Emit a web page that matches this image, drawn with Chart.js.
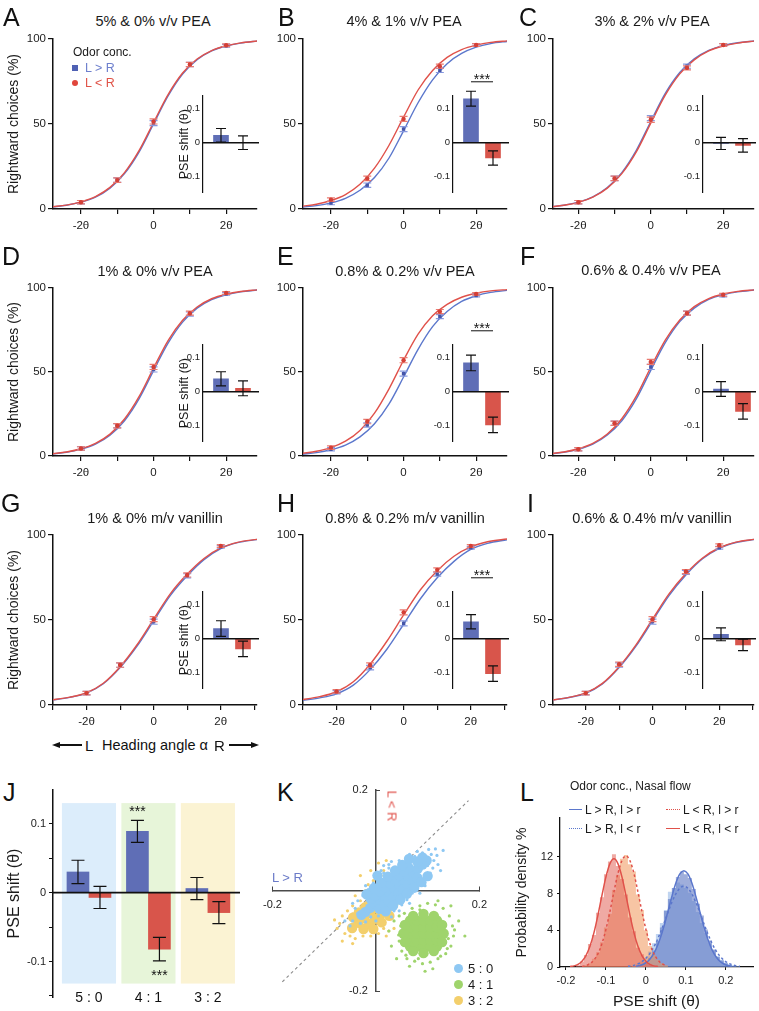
<!DOCTYPE html>
<html>
<head>
<meta charset="utf-8">
<script src="https://cdn.jsdelivr.net/npm/chart.js@4.4.1/dist/chart.umd.min.js"></script>
<style>
  html, body { margin: 0; padding: 0; background: #fff; }
  body { position: relative; width: 759px; height: 1011px; overflow: hidden;
         font-family: "Liberation Sans", Arial, sans-serif; color: #1a1a1a; }
  canvas { position: absolute; }
  .lb { position: absolute; white-space: nowrap; line-height: 1; }
</style>
</head>
<body>
<script>
// ---------- data ----------
const thetaX = [-2, -1, 0, 1, 2];
const thetaLabels = { '-2': '-2θ', '0': '0', '2': '2θ' };
const pointErr = [1.0, 1.3, 1.5, 1.2, 0.8];

const psychTitles = ['5% & 0% v/v PEA', '4% & 1% v/v PEA', '3% & 2% v/v PEA',
  '1% & 0% v/v PEA', '0.8% & 0.2% v/v PEA', '0.6% & 0.4% v/v PEA',
  '1% & 0% m/v vanillin', '0.8% & 0.2% m/v vanillin', '0.6% & 0.4% m/v vanillin'];

// rightward choices (%) at -2θ..2θ, L>R (blue) and L<R (red)
const blueMeans = [
  [4, 17, 50.5, 85, 96], [3.5, 14, 47, 81.5, 96.5], [4, 18, 53.5, 84, 96.5],
  [4.5, 18, 51.5, 84.5, 96.5], [4, 18.5, 49, 83, 95.5], [4, 19.5, 53, 85, 95.5],
  [7, 23.5, 49, 76, 93], [7.5, 22, 48, 77, 92.5], [7, 23.5, 49, 78, 92.5]];
const redMeans = [
  [4, 17, 51.5, 85, 96.3], [5.5, 18, 53, 84, 96.5], [4, 18, 52.5, 83, 96.5],
  [4.5, 18, 53, 85, 97], [5, 20.5, 57, 86, 96.5], [4, 19.5, 56, 85, 96],
  [7, 23.5, 50.5, 76.5, 93.5], [8, 23.5, 54.5, 79.5, 93.5], [7, 24, 50.5, 78.5, 94]];

// fitted curves
const curveX12 = [-2.8, -2.4, -2, -1.6, -1.2, -0.8, -0.4, 0, 0.4, 0.8, 1.2, 1.6, 2, 2.4, 2.9];
const curveX3 = [-3.1, -2.5, -2, -1.5, -1, -0.5, 0, 0.5, 1, 1.5, 2, 2.5, 3.1];
const blueCurves = [
  [1.2, 2.2, 4.0, 7.0, 12.3, 20.8, 33.5, 50, 66.5, 79.4, 87.8, 93, 95.9, 97.6, 98.9],
  [1.1, 2.0, 3.6, 6.3, 11, 18.5, 30, 46, 62.5, 76, 85.5, 91.5, 95.2, 97.3, 98.7],
  [1.2, 2.2, 4.0, 7.2, 12.6, 21.4, 34.5, 51.5, 68, 80.3, 88.3, 93.3, 96.1, 97.8, 98.9],
  [1.2, 2.2, 4.1, 7.1, 12.4, 21, 34, 50.8, 67.2, 79.7, 88, 93.1, 96, 97.7, 98.9],
  [1.1, 2.0, 3.7, 6.5, 11.4, 19.2, 31, 47, 63.5, 77, 86, 92, 95.4, 97.4, 98.7],
  [1.2, 2.2, 4.0, 7.1, 12.5, 21, 34, 51, 67.5, 80, 88, 93.2, 96, 97.7, 98.9],
  [2.7, 4.5, 7.0, 12.5, 22, 34.5, 49.5, 64.5, 76, 85.5, 92, 95.5, 97.4],
  [2.5, 4.2, 6.6, 11.7, 20.8, 32.8, 47.5, 62.5, 74.8, 84.5, 91.5, 95.1, 97.2],
  [2.6, 4.4, 6.9, 12.4, 22, 34.5, 49.5, 64.5, 76.5, 86, 92.2, 95.6, 97.5]];
const redCurves = [
  [1.3, 2.3, 4.2, 7.3, 12.7, 21.4, 34.3, 50.9, 67.3, 80, 88.2, 93.2, 96, 97.7, 98.9],
  [1.6, 2.8, 5, 8.5, 14.5, 24, 37.5, 54, 70, 81.5, 89.2, 93.8, 96.4, 98, 99],
  [1.2, 2.2, 3.9, 7.0, 12.3, 20.8, 33.6, 50.5, 67, 79.5, 87.7, 93, 95.9, 97.6, 98.9],
  [1.3, 2.4, 4.3, 7.5, 13, 22, 35.3, 52.3, 68.7, 80.8, 88.7, 93.6, 96.3, 97.9, 99],
  [1.5, 2.8, 5, 8.8, 15.2, 25.5, 40, 57, 72.5, 83.5, 90.3, 94.5, 96.9, 98.3, 99.1],
  [1.3, 2.4, 4.3, 7.5, 13.1, 22.2, 35.6, 52.8, 69, 81, 88.9, 93.7, 96.4, 98, 99],
  [2.8, 4.6, 7.2, 12.8, 22.5, 35.3, 50.5, 65.5, 77, 86.2, 92.4, 95.7, 97.5],
  [2.9, 4.9, 7.8, 13.7, 24, 37.5, 53, 67.8, 79, 87.5, 93, 96, 97.7],
  [2.7, 4.5, 7.1, 12.7, 22.5, 35.2, 50.5, 65.5, 77.3, 86.5, 92.5, 95.8, 97.6]];

// inset PSE shifts (θ)
const insetBlue = [0.022, 0.13, -0.002, 0.038, 0.085, 0.008, 0.03, 0.05, 0.013];
const insetBlueErr = [0.02, 0.022, 0.018, 0.021, 0.023, 0.022, 0.023, 0.021, 0.019];
const insetRed = [0.0, -0.045, -0.008, 0.01, -0.098, -0.058, -0.03, -0.103, -0.018];
const insetRedErr = [0.02, 0.021, 0.02, 0.022, 0.023, 0.023, 0.023, 0.023, 0.017];
const insetSig = [false, true, false, false, true, false, false, true, false];

// panel J
const jGroups = ['5 : 0', '4 : 1', '3 : 2'];
const jBlue = [0.030, 0.089, 0.006];
const jBlueErr = [0.017, 0.016, 0.016];
const jRed = [-0.007, -0.082, -0.029];
const jRedErr = [0.016, 0.017, 0.016];

// panel K bootstrap clouds [L>R shift, L<R shift]
const cloud50Core = [[-0.020,-0.042],[-0.011,-0.034],[-0.002,-0.026],[0.008,-0.018],[0.017,-0.011],[0.026,-0.003],
  [0.035,0.005],[0.044,0.013],[0.053,0.021],[0.062,0.028],[0.072,0.036],[0.081,0.044],[0.090,0.052],
  [-0.010,-0.016],[-0.001,-0.009],[0.008,-0.001],[0.017,0.007],[0.027,0.015],[0.036,0.023],[0.045,0.031],[0.054,0.038],[0.063,0.046],
  [0.007,-0.036],[0.016,-0.028],[0.025,-0.021],[0.034,-0.013],[0.044,-0.005],[0.053,0.003],[0.062,0.011],[0.071,0.019],[0.080,0.026],
  [-0.004,0.005],[0.010,0.016],[0.023,0.028],[0.037,0.040],[0.033,-0.030],[0.047,-0.018],[0.060,-0.006],[0.074,0.006],
  [-0.018,-0.007],[0.051,0.051],[0.064,0.063],[0.019,-0.041],[0.088,0.017],[0.100,0.029],[0.098,0.060],[0.090,0.066],
  [-0.028,-0.048],[0.003,0.030],[0.080,0.058]];
const cloud50Spray = [[0.107,0.072],[0.095,0.068],[0.085,0.062],[0.100,0.050],[0.112,0.060],[0.090,0.075],[0.070,0.060],
  [0.060,0.055],[0.050,0.050],[0.040,0.045],[0.075,0.068],[0.120,0.052],[0.105,0.035],[0.095,0.030],[0.088,0.020],
  [0.080,0.008],[0.070,-0.005],[0.060,-0.018],[0.050,-0.028],[0.035,-0.040],[0.020,-0.045],[0.005,-0.050],[-0.010,-0.052],
  [-0.025,-0.050],[-0.035,-0.045],[-0.040,-0.035],[-0.035,-0.020],[-0.025,-0.010],[-0.015,0.002],[-0.005,0.015],
  [0.005,0.025],[0.015,0.035],[0.025,0.045],[0.015,0.050],[-0.060,-0.060],[-0.050,-0.070],[-0.020,-0.062],[0.030,0.058],
  [0.130,0.080],[0.115,0.083],[0.110,0.045],[0.118,0.070],[0.102,0.082],[0.080,0.078],[0.065,0.072],[0.045,0.060],
  [0.030,-0.052],[0.045,-0.040],[0.065,-0.025],[0.085,-0.005],[-0.045,-0.060],[-0.030,-0.065],[0.000,-0.060],
  [0.010,0.040],[0.025,0.052],[-0.020,0.010],[-0.045,-0.025],[0.125,0.040],[0.095,0.010]];
const cloud41Core = [[0.066,-0.111],[0.079,-0.111],[0.092,-0.111],[0.105,-0.111],[0.118,-0.111],
  [0.066,-0.098],[0.079,-0.098],[0.092,-0.098],[0.105,-0.098],[0.118,-0.098],
  [0.066,-0.085],[0.079,-0.085],[0.092,-0.085],[0.105,-0.085],[0.118,-0.085],
  [0.066,-0.072],[0.079,-0.072],[0.092,-0.072],[0.105,-0.072],[0.118,-0.072],
  [0.066,-0.059],[0.079,-0.059],[0.092,-0.059],[0.105,-0.059],[0.118,-0.059],
  [0.092,-0.046],[0.092,-0.124],[0.053,-0.085],[0.131,-0.085],[0.072,-0.050],[0.112,-0.050],
  [0.072,-0.120],[0.112,-0.120],[0.056,-0.068],[0.128,-0.068],[0.056,-0.102],[0.128,-0.102]];
const cloud41Spray = [[0.040,-0.030],[0.035,-0.060],[0.045,-0.100],[0.050,-0.120],[0.060,-0.135],[0.075,-0.140],
  [0.090,-0.145],[0.105,-0.142],[0.120,-0.135],[0.135,-0.125],[0.145,-0.110],[0.150,-0.090],[0.148,-0.070],
  [0.142,-0.050],[0.130,-0.035],[0.115,-0.028],[0.100,-0.025],[0.085,-0.030],[0.070,-0.035],[0.055,-0.045],
  [0.160,-0.060],[0.172,-0.090],[0.025,-0.080],[0.030,-0.110],[0.095,-0.160],[0.110,-0.155],[0.065,-0.150],
  [0.120,-0.020],[0.145,-0.030],[0.040,-0.135],[0.048,-0.070],[0.045,-0.050],[0.140,-0.095],[0.138,-0.115],
  [0.082,-0.135],[0.125,-0.130],[0.058,-0.128],[0.085,-0.038],[0.152,-0.078],[0.044,-0.088]];
const cloud32Core = [[-0.046,-0.074],[-0.034,-0.064],[-0.023,-0.055],[-0.011,-0.045],[0.000,-0.035],[0.011,-0.025],
  [0.023,-0.016],[0.034,-0.006],[0.046,0.004],[-0.044,-0.053],[-0.033,-0.043],[-0.021,-0.033],[-0.010,-0.024],
  [0.002,-0.014],[0.013,-0.004],[-0.024,-0.076],[-0.013,-0.066],[-0.002,-0.056],[0.010,-0.046],[0.021,-0.037],
  [0.033,-0.027],[-0.005,-0.076],[0.011,-0.063],[0.026,-0.050]];
const cloud32Spray = [[-0.070,-0.065],[-0.065,-0.050],[-0.060,-0.085],[-0.050,-0.090],[-0.040,-0.095],[-0.025,-0.090],
  [-0.010,-0.090],[0.005,-0.085],[0.015,-0.075],[-0.055,-0.040],[-0.045,-0.030],[-0.030,-0.020],[-0.040,-0.010],
  [-0.020,0.000],[-0.015,0.012],[-0.005,0.020],[0.010,0.030],[0.015,0.040],[0.005,0.055],[0.020,0.060],
  [-0.030,0.030],[-0.010,0.040],[-0.075,-0.075],[-0.080,-0.058],[0.020,-0.090],[0.025,-0.080],[-0.045,-0.105],
  [-0.065,-0.100],[0.035,-0.075]];
const cloudNames = ['5 : 0', '4 : 1', '3 : 2'];

// panel L histograms (probability density %)
const histRedX = [-0.18,-0.17,-0.16,-0.15,-0.14,-0.13,-0.12,-0.11,-0.10,-0.09,-0.08,-0.07,-0.06,-0.05,-0.04,-0.03,-0.02,-0.01,0,0.01,0.02,0.03,0.04];
const histRed = [0,0.2,0.6,1.3,2.5,3.5,5.9,7.6,10.1,11.5,12.3,11.0,9.6,7.9,5.4,3.9,2.1,1.4,0.6,0.3,0.1,0.05,0];
const histOrangeX = [-0.16,-0.15,-0.14,-0.13,-0.12,-0.11,-0.10,-0.09,-0.08,-0.07,-0.06,-0.05,-0.04,-0.03,-0.02,-0.01,0,0.01,0.02,0.03,0.04,0.05,0.06];
const histOrange = [0,0.2,0.4,0.9,1.6,2.7,4.3,5.8,8.4,10.0,11.8,12.2,11.2,10.4,7.9,6.2,4.0,2.3,1.3,0.8,0.4,0.2,0];
const histBlueX = [-0.03,-0.02,-0.01,0,0.01,0.02,0.03,0.04,0.05,0.06,0.07,0.08,0.09,0.10,0.11,0.12,0.13,0.14,0.15,0.16,0.17,0.18,0.19,0.20,0.21,0.22,0.23];
const histBlue = [0,0.1,0.3,0.5,1.0,1.8,2.8,4.3,6.1,7.4,8.6,9.8,10.4,10.1,9.7,8.5,6.9,5.6,4.1,2.9,1.9,1.1,0.7,0.4,0.2,0.1,0];
const histLightX = [-0.04,-0.03,-0.02,-0.01,0,0.01,0.02,0.03,0.04,0.05,0.06,0.07,0.08,0.09,0.10,0.11,0.12,0.13,0.14,0.15,0.16,0.17,0.18,0.19,0.20,0.21,0.22,0.23,0.24];
const histLight = [0,0.1,0.3,0.6,1.0,1.7,2.6,3.6,4.8,6.2,8.2,8.6,9.2,9.0,8.6,8.1,7.2,6.0,4.8,3.7,2.6,1.8,1.2,0.8,0.5,0.3,0.2,0.1,0];

// fitted densities
const fitRedSolidX = [-0.19,-0.18,-0.17,-0.16,-0.15,-0.14,-0.13,-0.12,-0.11,-0.10,-0.09,-0.08,-0.07,-0.06,-0.05,-0.04,-0.03,-0.02,-0.01,0,0.01,0.02,0.03];
const fitRedSolid = [0.05,0.12,0.28,0.63,1.25,2.25,3.74,5.66,7.81,9.82,11.27,11.8,11.27,9.82,7.81,5.66,3.74,2.25,1.25,0.63,0.28,0.12,0.05];
const fitRedDotX = [-0.16,-0.15,-0.14,-0.13,-0.12,-0.11,-0.10,-0.09,-0.08,-0.07,-0.06,-0.05,-0.04,-0.03,-0.02,-0.01,0,0.01,0.02,0.03,0.04,0.05];
const fitRedDot = [0.06,0.16,0.36,0.76,1.45,2.55,4.1,6.05,8.2,10.2,11.6,12.1,11.6,10.2,8.2,6.05,4.1,2.55,1.45,0.76,0.36,0.16];
const fitBlueSolidX = [-0.025,-0.015,-0.005,0.005,0.015,0.025,0.035,0.045,0.055,0.065,0.075,0.085,0.095,0.105,0.115,0.125,0.135,0.145,0.155,0.165,0.175,0.185,0.195,0.205,0.215];
const fitBlueSolid = [0.07,0.16,0.33,0.63,1.14,1.92,3.02,4.41,6.04,7.69,9.15,10.14,10.5,10.14,9.15,7.69,6.04,4.41,3.02,1.92,1.14,0.63,0.33,0.16,0.07];
const fitBlueDotX = [-0.045,-0.035,-0.025,-0.015,-0.005,0.005,0.015,0.025,0.035,0.045,0.055,0.065,0.075,0.085,0.095,0.105,0.115,0.125,0.135,0.145,0.155,0.165,0.175,0.185,0.195,0.205,0.215,0.225,0.235];
const fitBlueDot = [0.07,0.13,0.26,0.44,0.75,1.19,1.81,2.62,3.62,4.74,5.93,7.05,7.97,8.59,8.8,8.59,7.97,7.05,5.93,4.74,3.62,2.62,1.81,1.19,0.75,0.44,0.26,0.13,0.07];

// ---------- layout ----------
const psychAxisX = [53, 303, 553];
const psychRight = [258, 508, 755];
const rowTop = [39, 288, 535];
const rowBottom = [209, 456, 705];
const psychXMin = [-2.77, -2.77, -2.70, -2.77, -2.77, -2.70, -3.0, -3.0, -2.98];
const psychXMax = [2.85, 2.85, 2.85, 2.85, 2.85, 2.85, 3.08, 3.08, 3.04];
const insetAxisX = [203, 453, 703];
const titlePos = [[153,21],[404,21],[652,21],[155,271],[405,271],[651,270],[155,518],[405,518],[652,518]];
const letters = ['A','B','C','D','E','F','G','H','I','J','K','L'];
const letterPos = [[3,17],[278,17],[519,17],[2,256],[277,256],[520,256],[1,503],[277,503],[527,503],[3,792],[277,792],[520,792]];

const BLUE = '#5b77cc', RED = '#e0514a';
const BAR_BLUE = '#5f6eb6', BAR_RED = '#d8554b';
const FONT = '"Liberation Sans", Arial, sans-serif';

Chart.defaults.font.family = FONT;
Chart.defaults.color = '#1a1a1a';
Chart.defaults.animation = false;
Chart.defaults.responsive = false;
Chart.defaults.events = [];
Chart.defaults.plugins.legend.display = false;
Chart.defaults.plugins.tooltip.enabled = false;

// error bars, drawn under (points) or over (bars) each dataset
function drawErr(chart, i) {
  const ds = chart.data.datasets[i];
  if (!ds.errs) return;
  const meta = chart.getDatasetMeta(i);
  const ys = chart.scales[meta.yAxisID];
  const ctx = chart.ctx;
  ctx.save();
  ctx.strokeStyle = ds.errColor;
  ctx.lineWidth = ds.errWidth || 1.2;
  meta.data.forEach((el, j) => {
    const v = ds.data[j].y, e = ds.errs[j], c = ds.cap;
    const y1 = ys.getPixelForValue(v + e), y2 = ys.getPixelForValue(v - e);
    ctx.beginPath();
    ctx.moveTo(el.x, y1); ctx.lineTo(el.x, y2);
    ctx.moveTo(el.x - c, y1); ctx.lineTo(el.x + c, y1);
    ctx.moveTo(el.x - c, y2); ctx.lineTo(el.x + c, y2);
    ctx.stroke();
  });
  ctx.restore();
}
const errorBars = {
  id: 'errorBars',
  beforeDatasetDraw(chart, args) { if (chart.data.datasets[args.index].errUnder) drawErr(chart, args.index); },
  afterDatasetDraw(chart, args) { if (!chart.data.datasets[args.index].errUnder) drawErr(chart, args.index); }
};
const marks = {
  id: 'marks',
  beforeDraw(chart, a, o) {
    if (!o.bands) return;
    const xs = chart.scales.x, ys = chart.scales.y, ctx = chart.ctx;
    ctx.save();
    o.bands.forEach(b => {
      const x1 = xs.getPixelForValue(b.x0), x2 = xs.getPixelForValue(b.x1);
      const y1 = ys.getPixelForValue(b.y1), y2 = ys.getPixelForValue(b.y0);
      ctx.fillStyle = b.color;
      ctx.fillRect(x1, y1, x2 - x1, y2 - y1);
    });
    ctx.restore();
  },
  afterDatasetsDraw(chart, a, o) {
    const ctx = chart.ctx, xs = chart.scales.x, ys = chart.scales.y, area = chart.chartArea;
    ctx.save();
    ctx.strokeStyle = '#111';
    if (o.zero) {
      const y0 = ys.getPixelForValue(0);
      ctx.lineWidth = 1.6;
      ctx.beginPath(); ctx.moveTo(area.left, y0); ctx.lineTo(area.right, y0); ctx.stroke();
    }
    ctx.fillStyle = '#111';
    ctx.textAlign = 'center';
    if (o.groupLabels) {
      ctx.font = '14px ' + FONT;
      ctx.textBaseline = 'middle';
      o.groupLabels.forEach((t, k) => ctx.fillText(t, xs.getPixelForValue(k + 1), area.bottom + 1));
    }
    ctx.textBaseline = 'alphabetic';
    ctx.font = '14px ' + FONT;
    (o.stars || []).forEach(s => {
      const x = chart.getDatasetMeta(s.ds).data[s.idx].x;
      ctx.fillText('***', x, ys.getPixelForValue(s.y) + 7);
    });
    if (o.bracket) {
      const x1 = chart.getDatasetMeta(0).data[0].x, x2 = chart.getDatasetMeta(1).data[0].x;
      const y = ys.getPixelForValue(o.bracket);
      ctx.lineWidth = 1;
      ctx.beginPath(); ctx.moveTo(x1, y); ctx.lineTo(x2, y); ctx.stroke();
      ctx.fillText('***', (x1 + x2) / 2, y + 2);
    }
    ctx.restore();
  }
};
Chart.register(errorBars, marks);

// ---------- helpers ----------
function mkCanvas(left, top, w, h) {
  const c = document.createElement('canvas');
  c.width = w; c.height = h;
  c.style.left = left + 'px'; c.style.top = top + 'px';
  c.style.width = w + 'px'; c.style.height = h + 'px';
  document.body.appendChild(c);
  return c;
}
function pts(xs, ys) { return xs.map((x, k) => ({ x: x, y: ys[k] })); }
function xy(list) { return list.map(p => ({ x: p[0], y: p[1] })); }
function lbl(text, x, y, size, color, mode) {
  const d = document.createElement('div');
  d.className = 'lb';
  d.textContent = text;
  let tf = 'translate(-50%,-50%)';
  if (mode === 'l') tf = 'translate(0,-50%)';
  if (mode === 'rot') tf = 'translate(-50%,-50%) rotate(90deg)';
  d.style.cssText += `left:${x}px;top:${y}px;font-size:${size}px;color:${color || '#1a1a1a'};transform:${tf}`;
  document.body.appendChild(d);
  return d;
}
function box(x, y, w, h, css) {
  const d = document.createElement('div');
  d.style.cssText = `position:absolute;left:${x}px;top:${y}px;width:${w}px;height:${h}px;${css}`;
  document.body.appendChild(d);
  return d;
}
const fmt1 = v => Math.abs(v) < 1e-9 ? '0' : (+v.toFixed(1)).toString();

// ---------- psychometric panels A-I ----------
function psych(i) {
  const col = i % 3, row = Math.floor(i / 3);
  const ax = psychAxisX[col], right = psychRight[col];
  const top = rowTop[row], bottom = rowBottom[row];
  const xs = row < 2 ? curveX12 : curveX3;
  const cv = mkCanvas(ax - 53, top - 10, right - ax + 56, bottom - top + 34);
  new Chart(cv, {
    type: 'line',
    data: { datasets: [
      { data: pts(thetaX, redMeans[i]), showLine: false, pointStyle: 'circle', pointRadius: 2.2,
        pointBackgroundColor: '#d43f36', pointBorderWidth: 0, errs: pointErr, errColor: '#ea7b71', cap: 4, errUnder: true },
      { data: pts(thetaX, blueMeans[i]), showLine: false, pointStyle: 'rect', pointRadius: 2.4,
        pointBackgroundColor: '#4555a8', pointBorderWidth: 0, errs: pointErr, errColor: '#8799df', cap: 4, errUnder: true },
      { data: pts(xs, redCurves[i]), pointRadius: 0, borderColor: RED, borderWidth: 1.4, cubicInterpolationMode: 'monotone' },
      { data: pts(xs, blueCurves[i]), pointRadius: 0, borderColor: BLUE, borderWidth: 1.4, cubicInterpolationMode: 'monotone' }
    ]},
    options: {
      layout: { padding: { top: 10, right: 3, left: 0, bottom: 0 } },
      scales: {
        x: { type: 'linear', min: psychXMin[i], max: psychXMax[i], offset: false,
             afterFit: s => { s.height = 24; },
             ticks: { stepSize: 1, includeBounds: false, autoSkip: false, maxRotation: 0, padding: 5,
                      font: { size: 11.5 }, color: '#222', callback: v => thetaLabels[v] || '' },
             grid: { drawOnChartArea: false, tickLength: 5, color: '#111', lineWidth: 1.2 },
             border: { color: '#111', width: 1.5 } },
        y: { min: 0, max: 100,
             afterFit: s => { s.width = 53; },
             ticks: { stepSize: 50, padding: 2, font: { size: 11.5 }, color: '#222' },
             grid: { drawOnChartArea: false, tickLength: 5, color: '#111', lineWidth: 1.2 },
             border: { color: '#111', width: 1.5 },
             title: { display: col === 0, text: 'Rightward choices (%)', font: { size: 14 }, color: '#1a1a1a',
                      padding: { top: 6, bottom: 0 } } }
      }
    }
  });
}

function inset(i) {
  const col = i % 3, row = Math.floor(i / 3);
  const ax = insetAxisX[col], right = psychRight[col];
  const zeroY = rowTop[row] + 106;
  const w = right - ax;
  const cv = mkCanvas(ax - 30, zeroY - 85, w + 32, 141);
  new Chart(cv, {
    type: 'bar',
    data: { datasets: [
      { data: [{ x: 1, y: insetBlue[i] }], backgroundColor: BAR_BLUE, errs: [insetBlueErr[i]], errColor: '#111', cap: 5 },
      { data: [{ x: 2, y: insetRed[i] }], backgroundColor: BAR_RED, errs: [insetRedErr[i]], errColor: '#111', cap: 5 }
    ]},
    options: {
      layout: { padding: { top: 36, bottom: 4, right: 2, left: 0 } },
      datasets: { bar: { barThickness: 15, grouped: false } },
      plugins: { marks: { bracket: insetSig[i] ? 0.18 : 0 } },
      scales: {
        x: { type: 'linear', position: { y: 0 }, min: 1 - 18 / 22, max: 1 + (w - 18) / 22, offset: false,
             ticks: { display: false }, grid: { display: false, drawTicks: false },
             border: { color: '#111', width: 1.5, z: 1 } },
        y: { min: -0.1465, max: 0.138,
             afterFit: s => { s.width = 30; },
             ticks: { stepSize: 0.1, includeBounds: false, padding: 3, font: { size: 9.5 }, color: '#222', callback: fmt1 },
             grid: { display: false, drawTicks: false },
             border: { color: '#111', width: 1.2 },
             title: { display: col === 0, text: 'PSE shift (θ)', font: { size: 12.5 }, color: '#1a1a1a',
                      padding: { top: 4, bottom: 0 } } }
      }
    }
  });
}

for (let i = 0; i < 9; i++) {
  psych(i);
  inset(i);
  lbl(psychTitles[i], titlePos[i][0], titlePos[i][1], 14.5, '#1a1a1a');
}
letters.forEach((t, k) => lbl(t, letterPos[k][0], letterPos[k][1], 25, '#111', 'l'));

// legend of panel A
lbl('Odor conc.', 73, 52, 12, '#1a1a1a', 'l');
box(72, 65, 6, 6, 'background:#4f61b4');
lbl('L > R', 85, 68, 12.5, '#6d7fcd', 'l');
box(72, 80, 6, 6, 'background:#e0463c;border-radius:50%');
lbl('L < R', 85, 83, 12.5, '#e05348', 'l');

// heading angle label under G
(function () {
  const y = 745;
  box(57, y - 0.7, 25, 1.4, 'background:#111');
  box(52, y - 3.5, 0, 0, 'border-top:3.5px solid transparent;border-bottom:3.5px solid transparent;border-right:8px solid #111');
  lbl('L', 85, y, 15, '#111', 'l');
  lbl('Heading angle α', 102, y, 14.5, '#111', 'l');
  lbl('R', 214, y, 15, '#111', 'l');
  box(229, y - 0.7, 24, 1.4, 'background:#111');
  box(251, y - 3.5, 0, 0, 'border-top:3.5px solid transparent;border-bottom:3.5px solid transparent;border-left:8px solid #111');
})();

// ---------- panel J ----------
new Chart(mkCanvas(0, 780, 245, 231), {
  type: 'bar',
  data: { datasets: [
    { data: jBlue.map((v, k) => ({ x: k + 1, y: v })), backgroundColor: BAR_BLUE, errs: jBlueErr, errColor: '#111', cap: 6.5 },
    { data: jRed.map((v, k) => ({ x: k + 1, y: v })), backgroundColor: BAR_RED, errs: jRedErr, errColor: '#111', cap: 6.5 }
  ]},
  options: {
    layout: { padding: { top: 10, right: 5, left: 0, bottom: 0 } },
    datasets: { bar: { barThickness: 22 } },
    plugins: { marks: {
      zero: true,
      groupLabels: jGroups,
      bands: [
        { x0: 0.545, x1: 1.455, y0: -0.132, y1: 0.130, color: '#dcedfb' },
        { x0: 1.545, x1: 2.455, y0: -0.132, y1: 0.130, color: '#e7f5d9' },
        { x0: 2.545, x1: 3.455, y0: -0.132, y1: 0.130, color: '#fbf3d3' }],
      stars: [{ ds: 0, idx: 1, y: 0.122 }, { ds: 1, idx: 1, y: -0.116 }] } },
    scales: {
      x: { type: 'linear', min: 0.395, max: 3.54, offset: false,
           afterFit: s => { s.height = 14; },
           ticks: { display: false },
           grid: { display: false, drawTicks: false }, border: { display: false } },
      // range kept slightly off a whole number of steps so ticks land on 0.05 multiples
      y: { min: -0.1515, max: 0.149,
           afterFit: s => { s.width = 53; },
           ticks: { stepSize: 0.05, includeBounds: false, autoSkip: false, padding: 3, font: { size: 11 }, color: '#222',
                    callback: v => [0.1, 0, -0.1].some(t => Math.abs(v - t) < 1e-6) ? fmt1(v) : '' },
           grid: { drawOnChartArea: false, tickLength: 4, color: '#111' },
           border: { color: '#111', width: 1.5 },
           title: { display: true, text: 'PSE shift (θ)', font: { size: 16 }, color: '#1a1a1a', padding: { top: 5, bottom: 0 } } }
    }
  }
});

// ---------- panel K ----------
const SKY = '#8ec8f3', GRN = '#9fd46c', YEL = '#f3cf6c';
new Chart(mkCanvas(250, 770, 250, 241), {
  type: 'scatter',
  data: { datasets: [
    { data: xy(cloud50Core), pointRadius: 5.2, backgroundColor: SKY, borderWidth: 0 },
    { data: xy(cloud50Spray), pointRadius: 1.6, backgroundColor: SKY, borderWidth: 0 },
    { data: xy(cloud41Core), pointRadius: 5.2, backgroundColor: GRN, borderWidth: 0 },
    { data: xy(cloud41Spray), pointRadius: 1.6, backgroundColor: GRN, borderWidth: 0 },
    { data: xy(cloud32Core), pointRadius: 5.2, backgroundColor: YEL, borderWidth: 0 },
    { data: xy(cloud32Spray), pointRadius: 1.6, backgroundColor: YEL, borderWidth: 0 },
    { data: [{ x: -0.181, y: -0.181 }, { x: 0.179, y: 0.179 }], showLine: true, pointRadius: 0,
      borderColor: '#8c8c8c', borderWidth: 1.1, borderDash: [3, 3] }
  ]},
  options: {
    layout: { padding: { left: 22, right: 20, top: 20, bottom: 14 } },
    scales: {
      x: { type: 'linear', position: 'center', min: -0.2, max: 0.2,
           ticks: { stepSize: 0.2, padding: 13, maxRotation: 0, font: { size: 11 }, color: '#222',
                    callback: v => Math.abs(v) < 1e-9 ? '' : fmt1(v) },
           grid: { drawOnChartArea: false, tickLength: -5,
                   color: c => (c.tick && Math.abs(c.tick.value) < 1e-9) ? 'rgba(0,0,0,0)' : '#444' },
           border: { color: '#4a4a4a', width: 1.5 } },
      y: { type: 'linear', position: 'center', min: -0.2, max: 0.2,
           ticks: { stepSize: 0.2, padding: 13, font: { size: 11 }, color: '#222',
                    callback: v => Math.abs(v) < 1e-9 ? '' : fmt1(v) },
           grid: { drawOnChartArea: false, tickLength: -5,
                   color: c => (c.tick && Math.abs(c.tick.value) < 1e-9) ? 'rgba(0,0,0,0)' : '#444' },
           border: { color: '#4a4a4a', width: 1.5 } }
    }
  }
});
lbl('L > R', 272, 877, 13, '#6b7bc8', 'l');
lbl('L < R', 392, 806, 13, '#e0514a', 'rot');
[SKY, GRN, YEL].forEach((c, k) => {
  const y = [968, 984, 1000][k];
  box(453.5, y - 4.5, 9, 9, 'border-radius:50%;background:' + c);
  lbl(cloudNames[k], 468, y, 13, '#1a1a1a', 'l');
});

// ---------- panel L ----------
new Chart(mkCanvas(500, 780, 259, 231), {
  type: 'line',
  data: { datasets: [
    { data: pts(fitRedSolidX, fitRedSolid), pointRadius: 0, borderColor: RED, borderWidth: 1.5, cubicInterpolationMode: 'monotone' },
    { data: pts(fitRedDotX, fitRedDot), pointRadius: 0, borderColor: RED, borderWidth: 1.5, borderDash: [2.5, 2.5], cubicInterpolationMode: 'monotone' },
    { data: pts(fitBlueSolidX, fitBlueSolid), pointRadius: 0, borderColor: BLUE, borderWidth: 1.5, cubicInterpolationMode: 'monotone' },
    { data: pts(fitBlueDotX, fitBlueDot), pointRadius: 0, borderColor: BLUE, borderWidth: 1.5, borderDash: [2.5, 2.5], cubicInterpolationMode: 'monotone' },
    { data: pts(histRedX, histRed), pointRadius: 0, stepped: 'middle', fill: 'origin', borderWidth: 0, backgroundColor: 'rgba(226,100,90,0.55)' },
    { data: pts(histOrangeX, histOrange), pointRadius: 0, stepped: 'middle', fill: 'origin', borderWidth: 0, backgroundColor: 'rgba(240,150,90,0.55)' },
    { data: pts(histBlueX, histBlue), pointRadius: 0, stepped: 'middle', fill: 'origin', borderWidth: 0, backgroundColor: 'rgba(95,120,195,0.6)' },
    { data: pts(histLightX, histLight), pointRadius: 0, stepped: 'middle', fill: 'origin', borderWidth: 0, backgroundColor: 'rgba(130,170,225,0.5)' }
  ]},
  options: {
    layout: { padding: { top: 38, right: 6, left: 0, bottom: 0 } },
    scales: {
      x: { type: 'linear', min: -0.215, max: 0.268, offset: false,
           afterFit: s => { s.height = 44; },
           ticks: { stepSize: 0.1, includeBounds: false, maxRotation: 0, padding: 4, font: { size: 11 }, color: '#222', callback: fmt1 },
           grid: { drawOnChartArea: false, tickLength: 3, color: '#111' },
           border: { color: '#111', width: 1.3 },
           title: { display: true, text: 'PSE shift (θ)', font: { size: 15.5 }, color: '#1a1a1a', padding: { top: 0, bottom: 0 } } },
      y: { min: 0, max: 16.24,
           afterFit: s => { s.width = 60; },
           ticks: { stepSize: 4, includeBounds: false, padding: 4, font: { size: 11 }, color: '#222', callback: v => v <= 12 ? v : '' },
           grid: { drawOnChartArea: false, tickLength: 3,
                   color: c => (c.tick && c.tick.value > 12) ? 'rgba(0,0,0,0)' : '#111' },
           border: { color: '#111', width: 1.3 },
           title: { display: true, text: 'Probability density %', font: { size: 14 }, color: '#1a1a1a', padding: { top: 14, bottom: 0 } } }
    }
  }
});
lbl('Odor conc., Nasal flow', 570, 786, 12, '#1a1a1a', 'l');
function legLine(x, y, w, color, dotted) {
  box(x, y - 1, w, 0, `border-top:1.6px ${dotted ? 'dotted' : 'solid'} ${color}`);
}
legLine(569, 810, 13, BLUE, false); lbl('L > R, l > r', 585, 810, 12, '#1a1a1a', 'l');
legLine(666, 810, 14, RED, true);   lbl('L < R, l > r', 683, 810, 12, '#1a1a1a', 'l');
legLine(569, 829, 13, BLUE, true);  lbl('L > R, l < r', 585, 829, 12, '#1a1a1a', 'l');
legLine(666, 829, 14, RED, false);  lbl('L < R, l < r', 683, 829, 12, '#1a1a1a', 'l');
</script>
</body>
</html>
